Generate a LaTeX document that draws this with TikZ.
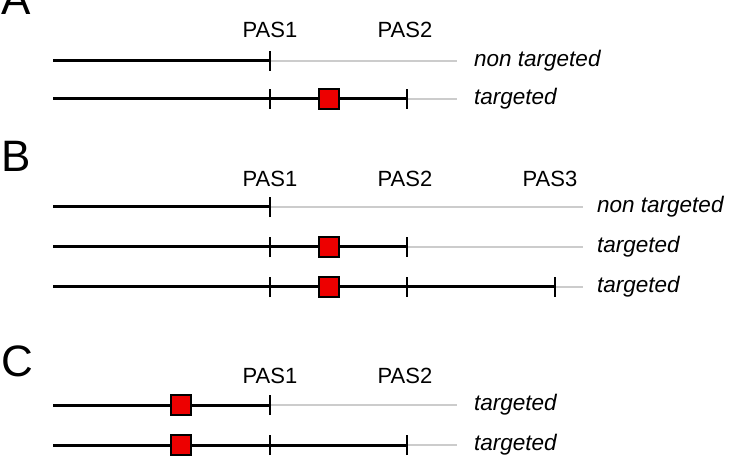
\documentclass[tikz,border=0pt]{standalone}
\usepackage{fontspec}
\setmainfont{Liberation Sans}
\begin{document}
\begin{tikzpicture}[x=1pt,y=-1pt,
  panel/.style={anchor=base west,inner sep=0pt,font=\fontsize{44}{50}\selectfont},
  pas/.style={anchor=base,inner sep=0pt,font=\fontsize{22}{26}\selectfont},
  lab/.style={anchor=west,inner sep=0pt,font=\fontsize{22.5}{27}\selectfont\itshape},
  seq/.style={line width=3pt,black},
  utr/.style={line width=1.5pt,black!20},
  tick/.style={line width=2pt,black},
  mark/.style={}]
\tikzset{sq/.style={draw=black,line width=1.2pt,fill=red!93!black,minimum size=20pt,inner sep=0pt}}
\useasboundingbox (0,0) rectangle (729,457);

% ---------- Panel A ----------
\node[panel] (A) at (1,15) {A};
\node[pas] (a1) at (270,38) {PAS1};
\node[pas] (a2) at (405,38) {PAS2};
% row 1
\coordinate (ar1s) at (53,61);
\coordinate (ar1p1) at (270,61);
\coordinate (ar1e) at (457,61);
\draw[utr] (ar1p1) -- (ar1e);
\draw[seq] (ar1s) -- (ar1p1);
\draw[tick] ([yshift=-10pt]ar1p1) -- ([yshift=10pt]ar1p1);
\node[lab] (at1) at (474,61) {non targeted};
% row 2
\coordinate (ar2s) at (53,99);
\coordinate (ar2p1) at (270,99);
\coordinate (ar2p2) at (407,99);
\coordinate (ar2e) at (457,99);
\draw[utr] (ar2p2) -- (ar2e);
\draw[seq] (ar2s) -- (ar2p2);
\draw[tick] ([yshift=-10pt]ar2p1) -- ([yshift=10pt]ar2p1);
\draw[tick] ([yshift=-10pt]ar2p2) -- ([yshift=10pt]ar2p2);
\node[sq] (asq) at (329,99) {};
\node[lab] (at2) at (474,99) {targeted};

% ---------- Panel B ----------
\node[panel] (B) at (1,172) {B};
\node[pas] (b1) at (270,187) {PAS1};
\node[pas] (b2) at (405,187) {PAS2};
\node[pas] (b3) at (550,187) {PAS3};
% row 1
\coordinate (br1s) at (53,207);
\coordinate (br1p1) at (270,207);
\coordinate (br1e) at (583,207);
\draw[utr] (br1p1) -- (br1e);
\draw[seq] (br1s) -- (br1p1);
\draw[tick] ([yshift=-10pt]br1p1) -- ([yshift=10pt]br1p1);
\node[lab] (bt1) at (597,207) {non targeted};
% row 2
\coordinate (br2s) at (53,247);
\coordinate (br2p1) at (270,247);
\coordinate (br2p2) at (407,247);
\coordinate (br2e) at (583,247);
\draw[utr] (br2p2) -- (br2e);
\draw[seq] (br2s) -- (br2p2);
\draw[tick] ([yshift=-10pt]br2p1) -- ([yshift=10pt]br2p1);
\draw[tick] ([yshift=-10pt]br2p2) -- ([yshift=10pt]br2p2);
\node[sq] (bsq2) at (329,247) {};
\node[lab] (bt2) at (597,247) {targeted};
% row 3
\coordinate (br3s) at (53,287);
\coordinate (br3p1) at (270,287);
\coordinate (br3p2) at (407,287);
\coordinate (br3p3) at (555,287);
\coordinate (br3e) at (583,287);
\draw[utr] (br3p3) -- (br3e);
\draw[seq] (br3s) -- (br3p3);
\draw[tick] ([yshift=-10pt]br3p1) -- ([yshift=10pt]br3p1);
\draw[tick] ([yshift=-10pt]br3p2) -- ([yshift=10pt]br3p2);
\draw[tick] ([yshift=-10pt]br3p3) -- ([yshift=10pt]br3p3);
\node[sq] (bsq3) at (329,287) {};
\node[lab] (bt3) at (597,287) {targeted};

% ---------- Panel C ----------
\node[panel] (C) at (1,377) {C};
\node[pas] (c1) at (270,383) {PAS1};
\node[pas] (c2) at (405,383) {PAS2};
% row 1
\coordinate (cr1s) at (53,405);
\coordinate (cr1p1) at (270,405);
\coordinate (cr1e) at (457,405);
\draw[utr] (cr1p1) -- (cr1e);
\draw[seq] (cr1s) -- (cr1p1);
\draw[tick] ([yshift=-10pt]cr1p1) -- ([yshift=10pt]cr1p1);
\node[sq] (csq1) at (181,405) {};
\node[lab] (ct1) at (474,405) {targeted};
% row 2
\coordinate (cr2s) at (53,445);
\coordinate (cr2p1) at (270,445);
\coordinate (cr2p2) at (407,445);
\coordinate (cr2e) at (457,445);
\draw[utr] (cr2p2) -- (cr2e);
\draw[seq] (cr2s) -- (cr2p2);
\draw[tick] ([yshift=-10pt]cr2p1) -- ([yshift=10pt]cr2p1);
\draw[tick] ([yshift=-10pt]cr2p2) -- ([yshift=10pt]cr2p2);
\node[sq] (csq2) at (181,445) {};
\node[lab] (ct2) at (474,445) {targeted};
\end{tikzpicture}
\end{document}
